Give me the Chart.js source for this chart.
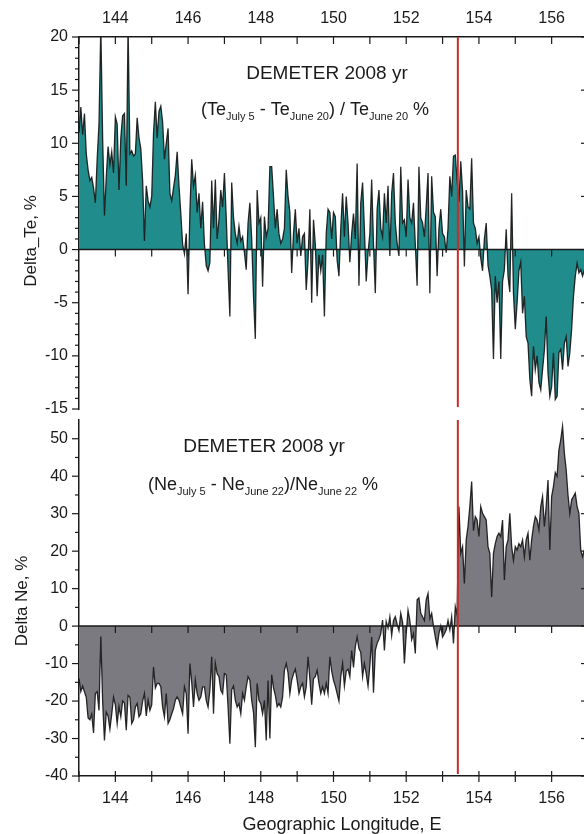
<!DOCTYPE html>
<html>
<head>
<meta charset="utf-8">
<script src="https://cdn.jsdelivr.net/npm/chart.js@4.4.1/dist/chart.umd.min.js"></script>
<style>
  html, body { margin: 0; padding: 0; background: #fff; overflow: hidden; width: 584px; height: 834px; }
  canvas { position: absolute; left: 0; }
  #teChart { top: 0; }
  #neChart { top: 412px; }
</style>
</head>
<body>
<canvas id="teChart" width="592" height="424"></canvas>
<canvas id="neChart" width="592" height="422"></canvas>
<script>
// longitude sampling of the orbit track
const LON_START = 143;
const LON_STEP = 0.05;
const LON_MIN = 143;
const LON_MAX = 157;
const QUAKE_LON = 153.42;

const lonTicks = [144, 146, 148, 150, 152, 154, 156];
const teTicks = [-15, -10, -5, 0, 5, 10, 15, 20];
const neTicks = [-40, -30, -20, -10, 0, 10, 20, 30, 40, 50];
const teRange = [-15, 20];
const neRange = [-40, 55];

// (Te July 5 - Te June 20) / Te June 20, %
const deltaTe = [
  11.0, 13.4, 10.8, 12.8, 9.0, 7.5, 6.5, 6.8, 5.8, 4.4,
  8.5, 11.8, 21, 10.5, 3.2, 6.8, 9.7, 8.0, 9.2, 7.2,
  12.5, 11.8, 5.6, 10.5, 12.6, 12.8, 6.0, 21, 9.0, 9.3,
  8.8, 9.0, 12.4, 10.5, 9.5, 6.5, 0.8, 6.0, 4.6, 4.0,
  5.0, 11.0, 13.9, 10.5, 13.0, 13.5, 12.0, 8.5, 10.0, 11.4,
  5.3, 4.6, 5.8, 7.0, 9.2, 6.0, 3.4, 0.5, -0.4, 1.5,
  -4.2, 3.5, 8.5, 6.0, 7.0, 3.5, 5.3, 2.0, 4.5, 0.5,
  -1.5, -2.0, -1.2, 6.5, 2.0, 6.6, 1.0, 2.8, 5.6, 4.0,
  7.2, 3.0, -1.9, -6.3, 6.3, 3.0, 1.5, 0.6, 2.2, 0.8,
  1.2, -0.3, -1.9, 2.5, 4.4, 1.0, -4.4, -8.4, 5.6, 2.5,
  3.0, -3.5, 3.1, 1.2, 2.0, 7.8, 7.8, 5.0, 2.0, 3.8,
  1.5, 0.6, 1.0, 2.0, 7.5, 5.0, 3.5, -2.2, 1.5, 3.8,
  0.6, 2.0, -0.6, 1.2, 1.5, -3.8, -1.0, 3.8, -5.0, 2.8,
  0.5, -4.4, -0.5, -2.0, -0.5, -6.3, 1.5, 3.8, 3.5, 1.0,
  3.5, 3.1, -1.0, -2.5, 2.0, 5.3, 1.2, 5.0, 2.5, -1.2,
  1.5, 3.4, 1.0, 8.1, -3.4, 4.4, 6.3, 1.9, -3.0, -0.3,
  1.5, 6.6, 0.5, -4.1, 3.8, 5.6, 2.0, 1.2, 5.3, 2.5,
  6.0, -0.6, 5.3, 7.2, 2.5, 0.6, -0.6, 7.8, 2.5, 2.8,
  1.2, 6.6, 3.0, 2.5, 4.4, 0.5, -3.4, 7.8, 3.0, 2.5,
  1.2, 4.0, 7.2, -4.1, 6.9, 3.5, 3.1, -2.5, 2.0, 3.8,
  1.5, 1.2, -0.3, 2.0, 6.9, 5.0, 8.8, 8.9, 6.5, 4.5,
  8.3, 5.5, -1.6, 5.6, 4.0, 3.8, 8.6, 2.5, 2.0, 0.6,
  1.2, -0.8, -2.0, 1.0, 2.5, -1.5, -2.5, -3.8, -10.3, -2.5,
  -5.0, -3.0, -10.3, -3.0, -1.9, 1.9, -2.5, -4.0, 5.3, -4.1,
  -7.5, -5.0, -2.0, -1.2, -6.0, -4.4, -8.2, -8.8, -12.2, -13.8,
  -9.1, -11.3, -10.0, -12.5, -13.2, -11.3, -9.5, -6.3, -11.6, -13.8,
  -12.9, -9.7, -14.1, -13.8, -9.7, -9.4, -11.3, -8.8, -8.2, -11.0,
  -9.7, -7.5, -4.4, -2.5, -1.3, -2.2, -1.9, -2.5, -1.9, -2.5, -2.0
];

// (Ne July 5 - Ne June 22) / Ne June 22, %
const deltaNe = [
  -14, -17.5, -16, -17.5, -19, -24.5, -25, -23.5, -28.5, -18,
  -17.5, -22.5, -2.8, -20, -30.5, -23, -24, -27.5, -23.5, -19,
  -21, -26, -21.5, -24.2, -20, -20.5, -27.8, -18.5, -19, -26,
  -25, -21.6, -20.7, -24.2, -23.4, -20, -18, -24, -19.8, -22.5,
  -21, -10.9, -16.5, -15.3, -15.3, -16.2, -21.6, -24.2, -18, -26,
  -25, -23.4, -22, -19.8, -18.9, -19.8, -21.6, -23.4, -16.2, -18,
  -28.7, -10, -15, -21.6, -14.5, -18, -19.8, -18.9, -16.2, -16.2,
  -19.8, -21.6, -17.1, -8.2, -23.4, -10, -12.7, -13.5, -17.1, -18,
  -12.7, -13, -21.6, -31.4, -17, -16, -19.8, -21.6, -20.7, -23.4,
  -18, -19.8, -16.2, -13.5, -14.4, -19.8, -23, -32.3, -15.3, -19.8,
  -20.7, -23.4, -19.8, -30.5, -14.5, -30, -13, -16.5, -18.5, -21.5,
  -20.7, -21.6, -18.9, -11.8, -10, -12.5, -18, -14.4, -12.7, -11.5,
  -14.4, -18, -16.2, -15.3, -18.9, -16.2, -8.2, -14, -21, -14,
  -13.5, -11.8, -15.3, -18, -16.2, -18, -15.3, -18, -8.2, -12,
  -14.5, -16, -18, -20, -13.5, -10, -16, -12, -11.5, -13.5,
  -6.5, -11, -5.5, -2.9, -6, -7, -13.5, -10, -12.7, -16,
  -10.5, -2.9, -17.8, -6.5, -4.6, -3.5, -2, 1.6, -6.5, 1.2,
  -0.5, 2.5, -2.5, 1.5, 2.5, 0.5, -1.2, 3.4, 1.0, -10,
  -2.0, 4.2, 1.5, -3.6, -2.0, -7.3, 7.0, 7.5, 3.4, 2.5,
  1.5, 7.0, 8.7, 2.0, 3.4, 0, -2.9, -5.5, -2.0, 0,
  -2.9, -2.0, -1.0, 1.5, -1.0, 2.5, -4.6, 5.2, 3.0, 31.9,
  19.4, 21.2, 11.4, 23, 26.6, 31.9, 38.6, 25.5, 29.2, 28.3,
  23.9, 31.9, 30.1, 29.2, 28.3, 21.2, 19.4, 7.8, 19.4, 22,
  23.9, 24.8, 23.9, 28.3, 12.3, 21.2, 23, 30.1, 21.2, 17.6,
  21.2, 20.3, 22, 21.2, 23, 18.5, 23, 24.8, 17.6, 23,
  26.6, 29.2, 28.3, 25.7, 31.9, 34.6, 26.6, 31.9, 39, 20.3,
  34.6, 37.3, 41, 40, 47, 49.7, 53.3, 46.2, 41.7, 35,
  30.1, 33.7, 34.6, 35.5, 31.9, 30.1, 20.3, 18.5, 20.3, 15, 14
];

const FONT = '"Liberation Sans", Arial, sans-serif';
const INK = '#1a1a1a';

function toPoints(values) {
    return values.map((v, i) => ({ x: LON_START + i * LON_STEP, y: v }));
}

function line(ctx, x1, y1, x2, y2) {
    ctx.beginPath();
    ctx.moveTo(x1, y1);
    ctx.lineTo(x2, y2);
    ctx.stroke();
}

// text with subscript runs, e.g. Te_{July 5}
function drawRich(ctx, x, y, parts, size, subSize) {
    ctx.textAlign = 'left';
    ctx.textBaseline = 'alphabetic';
    parts.forEach(p => {
        ctx.font = (p.sub ? subSize : size) + 'px ' + FONT;
        ctx.fillText(p.t, x, p.sub ? y + 5 : y);
        x += ctx.measureText(p.t).width;
    });
}

// zero line, quake marker, tick marks, titles
const decor = {
    id: 'decor',
    afterDatasetsDraw(chart, args, o) {
        const { ctx, chartArea: a } = chart;
        const x = chart.scales.x, y = chart.scales.y;
        ctx.save();
        ctx.strokeStyle = INK;
        ctx.fillStyle = INK;

        // zero line with small ticks
        const y0 = y.getPixelForValue(0);
        ctx.lineWidth = 1.5;
        line(ctx, a.left, y0, a.right, y0);
        ctx.lineWidth = 1.2;
        for (let v = LON_MIN + 1; v < LON_MAX; v++) {
            const px = x.getPixelForValue(v);
            line(ctx, px, y0, px, y0 + 7);
        }

        // right frame with inward ticks, left axis with outward ticks
        ctx.lineWidth = 1.5;
        line(ctx, a.right, a.top, a.right, a.bottom);
        ctx.lineWidth = 1.2;
        for (let v = o.yMin; v <= o.yMax; v += o.minor) {
            const py = y.getPixelForValue(v);
            const len = v % o.major === 0 ? 7 : 4;
            line(ctx, a.right, py, a.right - len, py);
            line(ctx, a.left, py, a.left - len, py);
        }

        // longitude ticks on the outer x axis
        for (let v = LON_MIN; v <= LON_MAX; v++) {
            const px = x.getPixelForValue(v);
            if (o.xTop) line(ctx, px, a.top, px, a.top + 7);
            else line(ctx, px, a.bottom - 5, px, a.bottom + 6);
        }

        // earthquake longitude
        const rx = x.getPixelForValue(QUAKE_LON);
        ctx.strokeStyle = '#cc2b2b';
        ctx.lineWidth = 2;
        line(ctx, rx, a.top, rx, a.bottom - 2);

        // titles
        ctx.fillStyle = INK;
        ctx.font = '19px ' + FONT;
        ctx.textAlign = 'center';
        ctx.textBaseline = 'alphabetic';
        ctx.fillText(o.title, o.titleX, o.titleY);
        drawRich(ctx, o.subX, o.subY, o.sub, 18, 11);

        // y axis title
        ctx.save();
        ctx.translate(o.yTitleX, o.yTitleY);
        ctx.rotate(-Math.PI / 2);
        ctx.font = '17px ' + FONT;
        ctx.textAlign = 'center';
        ctx.textBaseline = 'middle';
        ctx.fillText(o.yTitle, 0, 0);
        ctx.restore();

        if (o.xTitle) {
            ctx.font = '18px ' + FONT;
            ctx.textAlign = 'center';
            ctx.textBaseline = 'middle';
            ctx.fillText(o.xTitle, o.xTitleX, o.xTitleY);
        }
        ctx.restore();
    }
};

function makeChart(id, values, range, yTicks, cfg) {
    return new Chart(document.getElementById(id), {
        type: 'line',
        data: {
            datasets: [{
                data: toPoints(values),
                borderColor: 'rgba(20,20,20,0.9)',
                borderWidth: 1.3,
                backgroundColor: cfg.fill,
                fill: 'origin',
                pointRadius: 0,
                tension: 0
            }]
        },
        options: {
            responsive: false,
            animation: false,
            events: [],
            layout: { padding: cfg.padding },
            plugins: {
                legend: { display: false },
                tooltip: { enabled: false },
                decor: cfg.decor
            },
            scales: {
                x: {
                    type: 'linear',
                    position: cfg.decor.xTop ? 'top' : 'bottom',
                    min: LON_MIN,
                    max: LON_MAX,
                    grid: { display: false, drawTicks: false },
                    border: { display: true, color: INK, width: 1.5 },
                    afterBuildTicks: s => { s.ticks = lonTicks.map(v => ({ value: v })); },
                    ticks: {
                        autoSkip: false,
                        maxRotation: 0,
                        padding: cfg.xPad,
                        color: INK,
                        font: { family: FONT, size: 16 }
                    },
                    afterFit: s => {
                        s.height = cfg.xHeight;
                        s.paddingLeft = 0;
                        s.paddingRight = 0;
                    }
                },
                y: {
                    min: range[0],
                    max: range[1],
                    grid: { display: false, drawTicks: false },
                    border: { display: true, color: INK, width: 1.5 },
                    afterBuildTicks: s => { s.ticks = yTicks.map(v => ({ value: v })); },
                    ticks: {
                        autoSkip: false,
                        padding: 11,
                        color: INK,
                        font: { family: FONT, size: 16 }
                    },
                    afterFit: s => {
                        s.width = 79;
                        s.paddingTop = 0;
                        s.paddingBottom = 0;
                    }
                }
            }
        },
        plugins: [decor]
    });
}

makeChart('teChart', deltaTe, teRange, teTicks, {
    fill: '#218c8c',
    padding: { top: 0, right: 4, bottom: 15, left: 0 },
    xHeight: 37,
    xPad: 9,
    decor: {
        xTop: true, yMin: teRange[0], yMax: teRange[1], major: 5, minor: 1,
        title: 'DEMETER 2008 yr', titleX: 327, titleY: 79,
        subX: 201, subY: 115,
        sub: [
            { t: '(Te' }, { t: 'July 5', sub: true }, { t: ' - Te' }, { t: 'June 20', sub: true },
            { t: ') / Te' }, { t: 'June 20', sub: true }, { t: ' %' }
        ],
        yTitle: 'Delta_Te, %', yTitleX: 31, yTitleY: 241
    }
});

makeChart('neChart', deltaNe, neRange, neTicks, {
    fill: '#7a7a80',
    padding: { top: 8, right: 4, bottom: 0, left: 0 },
    xHeight: 58,
    xPad: 13,
    decor: {
        xTop: false, yMin: neRange[0], yMax: 50, major: 10, minor: 5,
        title: 'DEMETER 2008 yr', titleX: 264, titleY: 40,
        subX: 148, subY: 78,
        sub: [
            { t: '(Ne' }, { t: 'July 5', sub: true }, { t: ' - Ne' }, { t: 'June 22', sub: true },
            { t: ')/Ne' }, { t: 'June 22', sub: true }, { t: ' %' }
        ],
        yTitle: 'Delta Ne, %', yTitleX: 22, yTitleY: 189,
        xTitle: 'Geographic Longitude, E', xTitleX: 342, xTitleY: 413
    }
});
</script>
</body>
</html>
